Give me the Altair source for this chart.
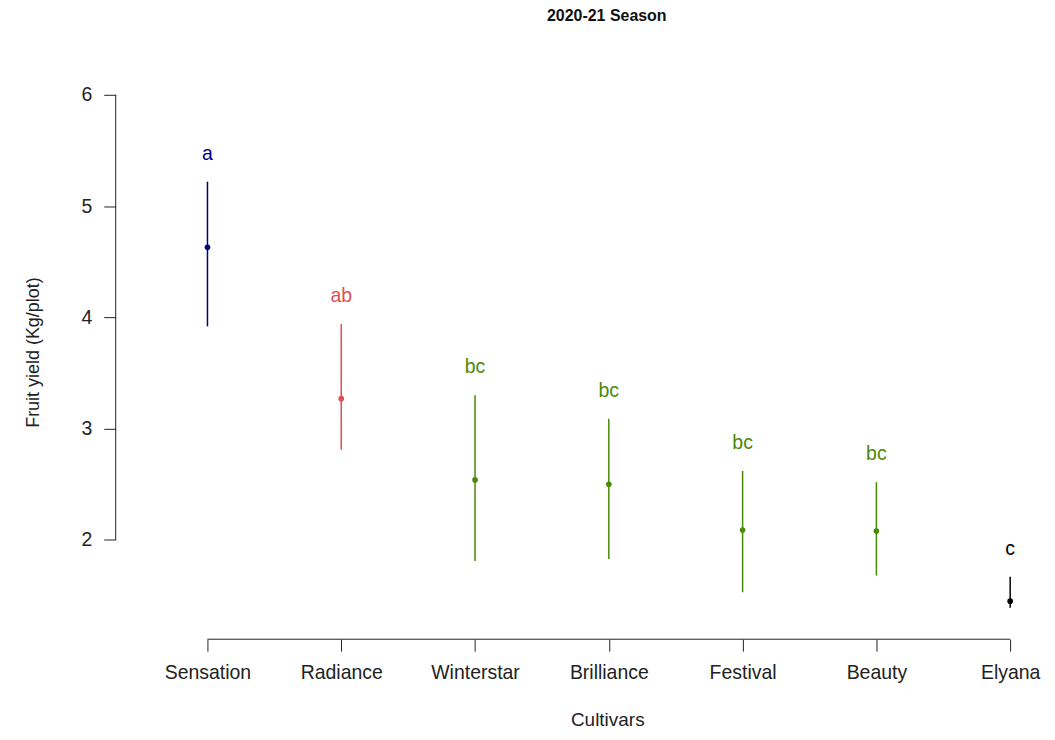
import json
import altair as alt
import pandas as pd

cultivars = ["Sensation", "Radiance", "Winterstar", "Brilliance", "Festival", "Beauty", "Elyana"]
means = [4.63, 3.27, 2.54, 2.50, 2.09, 2.08, 1.45]
upper = [5.22, 3.94, 3.30, 3.09, 2.62, 2.52, 1.67]
lower = [3.92, 2.81, 1.81, 1.83, 1.53, 1.68, 1.39]
letters = ["a", "ab", "bc", "bc", "bc", "bc", "c"]
colors = ["#000080", "#DF4F4F", "#4A8A06", "#4A8A06", "#4A8A06", "#4A8A06", "#000000"]
y_ticks = [2, 3, 4, 5, 6]

X_LO, X_HI = 0.314, 7.238
Y_LO, Y_HI = 1.108, 6.27
FONT = "Liberation Sans"

df = pd.DataFrame({
    "idx": list(range(1, len(cultivars) + 1)),
    "cultivar": cultivars,
    "mean": means,
    "upper": upper,
    "lower": lower,
    "letter": letters,
})

xscale = alt.Scale(domain=[X_LO, X_HI], nice=False, zero=False)
yscale = alt.Scale(domain=[Y_LO, Y_HI], nice=False, zero=False)
cscale = alt.Scale(domain=cultivars, range=colors)

label_expr = json.dumps(cultivars) + "[datum.value - 1]"

base = alt.Chart(df)

x_enc = alt.X(
    "idx:Q", scale=xscale,
    axis=alt.Axis(
        values=list(range(1, len(cultivars) + 1)), labelExpr=label_expr,
        domain=False, grid=False, tickSize=12, tickColor="#222", tickWidth=1,
        labelFont=FONT, labelFontSize=19.5, labelColor="#222", labelPadding=12,
        title="Cultivars", titleFont=FONT, titleFontSize=19, titleFontWeight="normal",
        titleColor="#222", titleX=493, titleY=87, titleBaseline="alphabetic",
        titleAlign="center", labelFlush=False, labelOverlap=False,
    ),
)
y_enc_axis = alt.Y(
    "upper:Q", scale=yscale,
    axis=alt.Axis(
        values=y_ticks, format="d", domain=False, grid=False, tickSize=12, tickColor="#222",
        labelFont=FONT, labelFontSize=19.5, labelColor="#222", labelPadding=12,
        title="Fruit yield (Kg/plot)", titleFont=FONT, titleFontSize=18,
        titleFontWeight="normal", titleColor="#222", titleX=-82, titleY=288,
        titleAngle=-90, titleBaseline="middle", titleAlign="center",
    ),
)

bars = base.mark_rule(strokeWidth=1.5).encode(
    x=x_enc,
    y=y_enc_axis,
    y2="lower:Q",
    color=alt.Color("cultivar:N", scale=cscale, legend=None),
)

points = base.mark_point(filled=True, size=32, opacity=1).encode(
    x=alt.X("idx:Q", scale=xscale),
    y=alt.Y("mean:Q", scale=yscale),
    color=alt.Color("cultivar:N", scale=cscale, legend=None),
)

texts = base.mark_text(font=FONT, fontSize=19.5, dy=-28, baseline="middle", align="center").encode(
    x=alt.X("idx:Q", scale=xscale),
    y=alt.Y("upper:Q", scale=yscale),
    text="letter:N",
    color=alt.Color("cultivar:N", scale=cscale, legend=None),
)

x_line = alt.Chart(pd.DataFrame({"a": [min(df["idx"])], "b": [max(df["idx"])]})).mark_rule(
    color="#222", strokeWidth=1
).encode(
    x=alt.X("a:Q", scale=xscale),
    x2="b:Q",
    y=alt.datum(Y_LO, scale=yscale),
)

y_line = alt.Chart(pd.DataFrame({"a": [min(y_ticks)], "b": [max(y_ticks)]})).mark_rule(
    color="#222", strokeWidth=1
).encode(
    y=alt.Y("a:Q", scale=yscale),
    y2="b:Q",
    x=alt.datum(X_LO, scale=xscale),
)

chart = alt.layer(bars, points, texts, x_line, y_line).properties(
    width=929,
    height=576,
    title=alt.TitleParams(
        "2020-21 Season", font=FONT, fontSize=16, fontWeight="bold", color="#111",
        anchor="middle", dx=28, offset=33, baseline="middle",
    ),
    autosize=alt.AutoSizeParams(type="none"),
    padding={"left": 108, "top": 56, "right": 5, "bottom": 92},
).configure_view(stroke=None)

chart.save("out.html", embed_options={"renderer": "svg", "actions": False})
